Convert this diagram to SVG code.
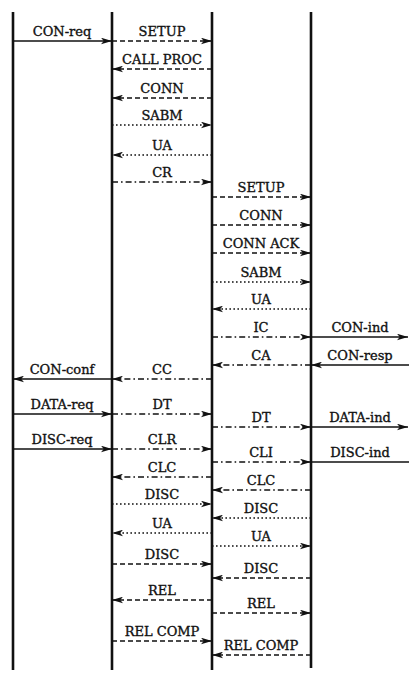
<svg xmlns="http://www.w3.org/2000/svg" width="409" height="679" viewBox="0 0 409 679">
<style>
.life{stroke:#111;stroke-width:2.6;fill:none}
.m{stroke:#111;stroke-width:1.6;fill:none}
.solid{marker-end:url(#ah)}
.nohead{marker-end:none}
.dash{stroke-dasharray:5 3;marker-end:url(#ah)}
.dot{stroke-dasharray:1.6 2.4;marker-end:url(#ah)}
.dd{stroke-dasharray:6 3 1.6 3;marker-end:url(#ah)}
text{font-family:"DejaVu Serif","Liberation Serif",serif;font-size:13px;fill:#111;text-anchor:middle;stroke:#111;stroke-width:0.35}
</style>
<defs>
<marker id="ah" viewBox="0 0 10 6" refX="10" refY="3" markerWidth="11" markerHeight="7" markerUnits="userSpaceOnUse" orient="auto">
<path d="M0,0 L10,3 L0,6 L2.5,3 Z" fill="#111"/>
</marker>
</defs>
<rect width="409" height="679" fill="#fff"/>
<g id="lifelines">
<line id="lane-a" class="life" x1="13" y1="12" x2="13" y2="670"/>
<line id="lane-b" class="life" x1="112" y1="12" x2="112" y2="670"/>
<line id="lane-c" class="life" x1="212" y1="12" x2="212" y2="670"/>
<line id="lane-d" class="life" x1="311" y1="12" x2="311" y2="668"/>
</g>
<g id="connectors">
<line class="m solid" x1="13" y1="41" x2="112" y2="41"/>
<line class="m dash" x1="112" y1="41" x2="212" y2="41"/>
<line class="m dash" x1="212" y1="69" x2="112" y2="69"/>
<line class="m dash" x1="212" y1="98" x2="112" y2="98"/>
<line class="m dot" x1="112" y1="125" x2="212" y2="125"/>
<line class="m dot" x1="212" y1="155" x2="112" y2="155"/>
<line class="m dd" x1="112" y1="182" x2="212" y2="182"/>
<line class="m dash" x1="212" y1="197" x2="311" y2="197"/>
<line class="m dash" x1="212" y1="225" x2="311" y2="225"/>
<line class="m dash" x1="212" y1="253" x2="311" y2="253"/>
<line class="m dot" x1="212" y1="282" x2="311" y2="282"/>
<line class="m dot" x1="311" y1="309" x2="212" y2="309"/>
<line class="m dd" x1="212" y1="337" x2="311" y2="337"/>
<line class="m solid" x1="311" y1="337" x2="408" y2="337"/>
<line class="m dd" x1="311" y1="365" x2="212" y2="365"/>
<line class="m solid" x1="409" y1="365" x2="311" y2="365"/>
<line class="m solid" x1="112" y1="379" x2="13" y2="379"/>
<line class="m dd" x1="212" y1="379" x2="112" y2="379"/>
<line class="m solid" x1="13" y1="414" x2="112" y2="414"/>
<line class="m dd" x1="112" y1="414" x2="212" y2="414"/>
<line class="m dd" x1="212" y1="427" x2="311" y2="427"/>
<line class="m solid" x1="311" y1="427" x2="408" y2="427"/>
<line class="m solid" x1="13" y1="449" x2="112" y2="449"/>
<line class="m dd" x1="112" y1="449" x2="212" y2="449"/>
<line class="m dd" x1="212" y1="462" x2="311" y2="462"/>
<line class="m nohead" x1="311" y1="462" x2="409" y2="462"/>
<line class="m dd" x1="212" y1="477" x2="112" y2="477"/>
<line class="m dd" x1="311" y1="490" x2="212" y2="490"/>
<line class="m dot" x1="112" y1="504" x2="212" y2="504"/>
<line class="m dot" x1="311" y1="518" x2="212" y2="518"/>
<line class="m dot" x1="212" y1="533" x2="112" y2="533"/>
<line class="m dot" x1="212" y1="546" x2="311" y2="546"/>
<line class="m dash" x1="112" y1="564" x2="212" y2="564"/>
<line class="m dash" x1="311" y1="578" x2="212" y2="578"/>
<line class="m dash" x1="212" y1="600" x2="112" y2="600"/>
<line class="m dash" x1="212" y1="613" x2="311" y2="613"/>
<line class="m dash" x1="112" y1="641" x2="212" y2="641"/>
<line class="m dash" x1="311" y1="655" x2="212" y2="655"/>
</g>
<g id="labels">
<text x="62" y="36">CON-req</text>
<text x="162" y="36">SETUP</text>
<text x="162" y="64">CALL PROC</text>
<text x="162" y="93">CONN</text>
<text x="162" y="120">SABM</text>
<text x="162" y="150">UA</text>
<text x="162" y="177">CR</text>
<text x="261" y="192">SETUP</text>
<text x="261" y="220">CONN</text>
<text x="261" y="248">CONN ACK</text>
<text x="261" y="277">SABM</text>
<text x="261" y="304">UA</text>
<text x="261" y="332">IC</text>
<text x="360" y="332">CON-ind</text>
<text x="261" y="360">CA</text>
<text x="360" y="360">CON-resp</text>
<text x="62" y="374">CON-conf</text>
<text x="162" y="374">CC</text>
<text x="62" y="409">DATA-req</text>
<text x="162" y="409">DT</text>
<text x="261" y="422">DT</text>
<text x="360" y="422">DATA-ind</text>
<text x="62" y="444">DISC-req</text>
<text x="162" y="444">CLR</text>
<text x="261" y="457">CLI</text>
<text x="360" y="457">DISC-ind</text>
<text x="162" y="472">CLC</text>
<text x="261" y="485">CLC</text>
<text x="162" y="499">DISC</text>
<text x="261" y="513">DISC</text>
<text x="162" y="528">UA</text>
<text x="261" y="541">UA</text>
<text x="162" y="559">DISC</text>
<text x="261" y="573">DISC</text>
<text x="162" y="595">REL</text>
<text x="261" y="608">REL</text>
<text x="162" y="636">REL COMP</text>
<text x="261" y="650">REL COMP</text>
</g>
</svg>
